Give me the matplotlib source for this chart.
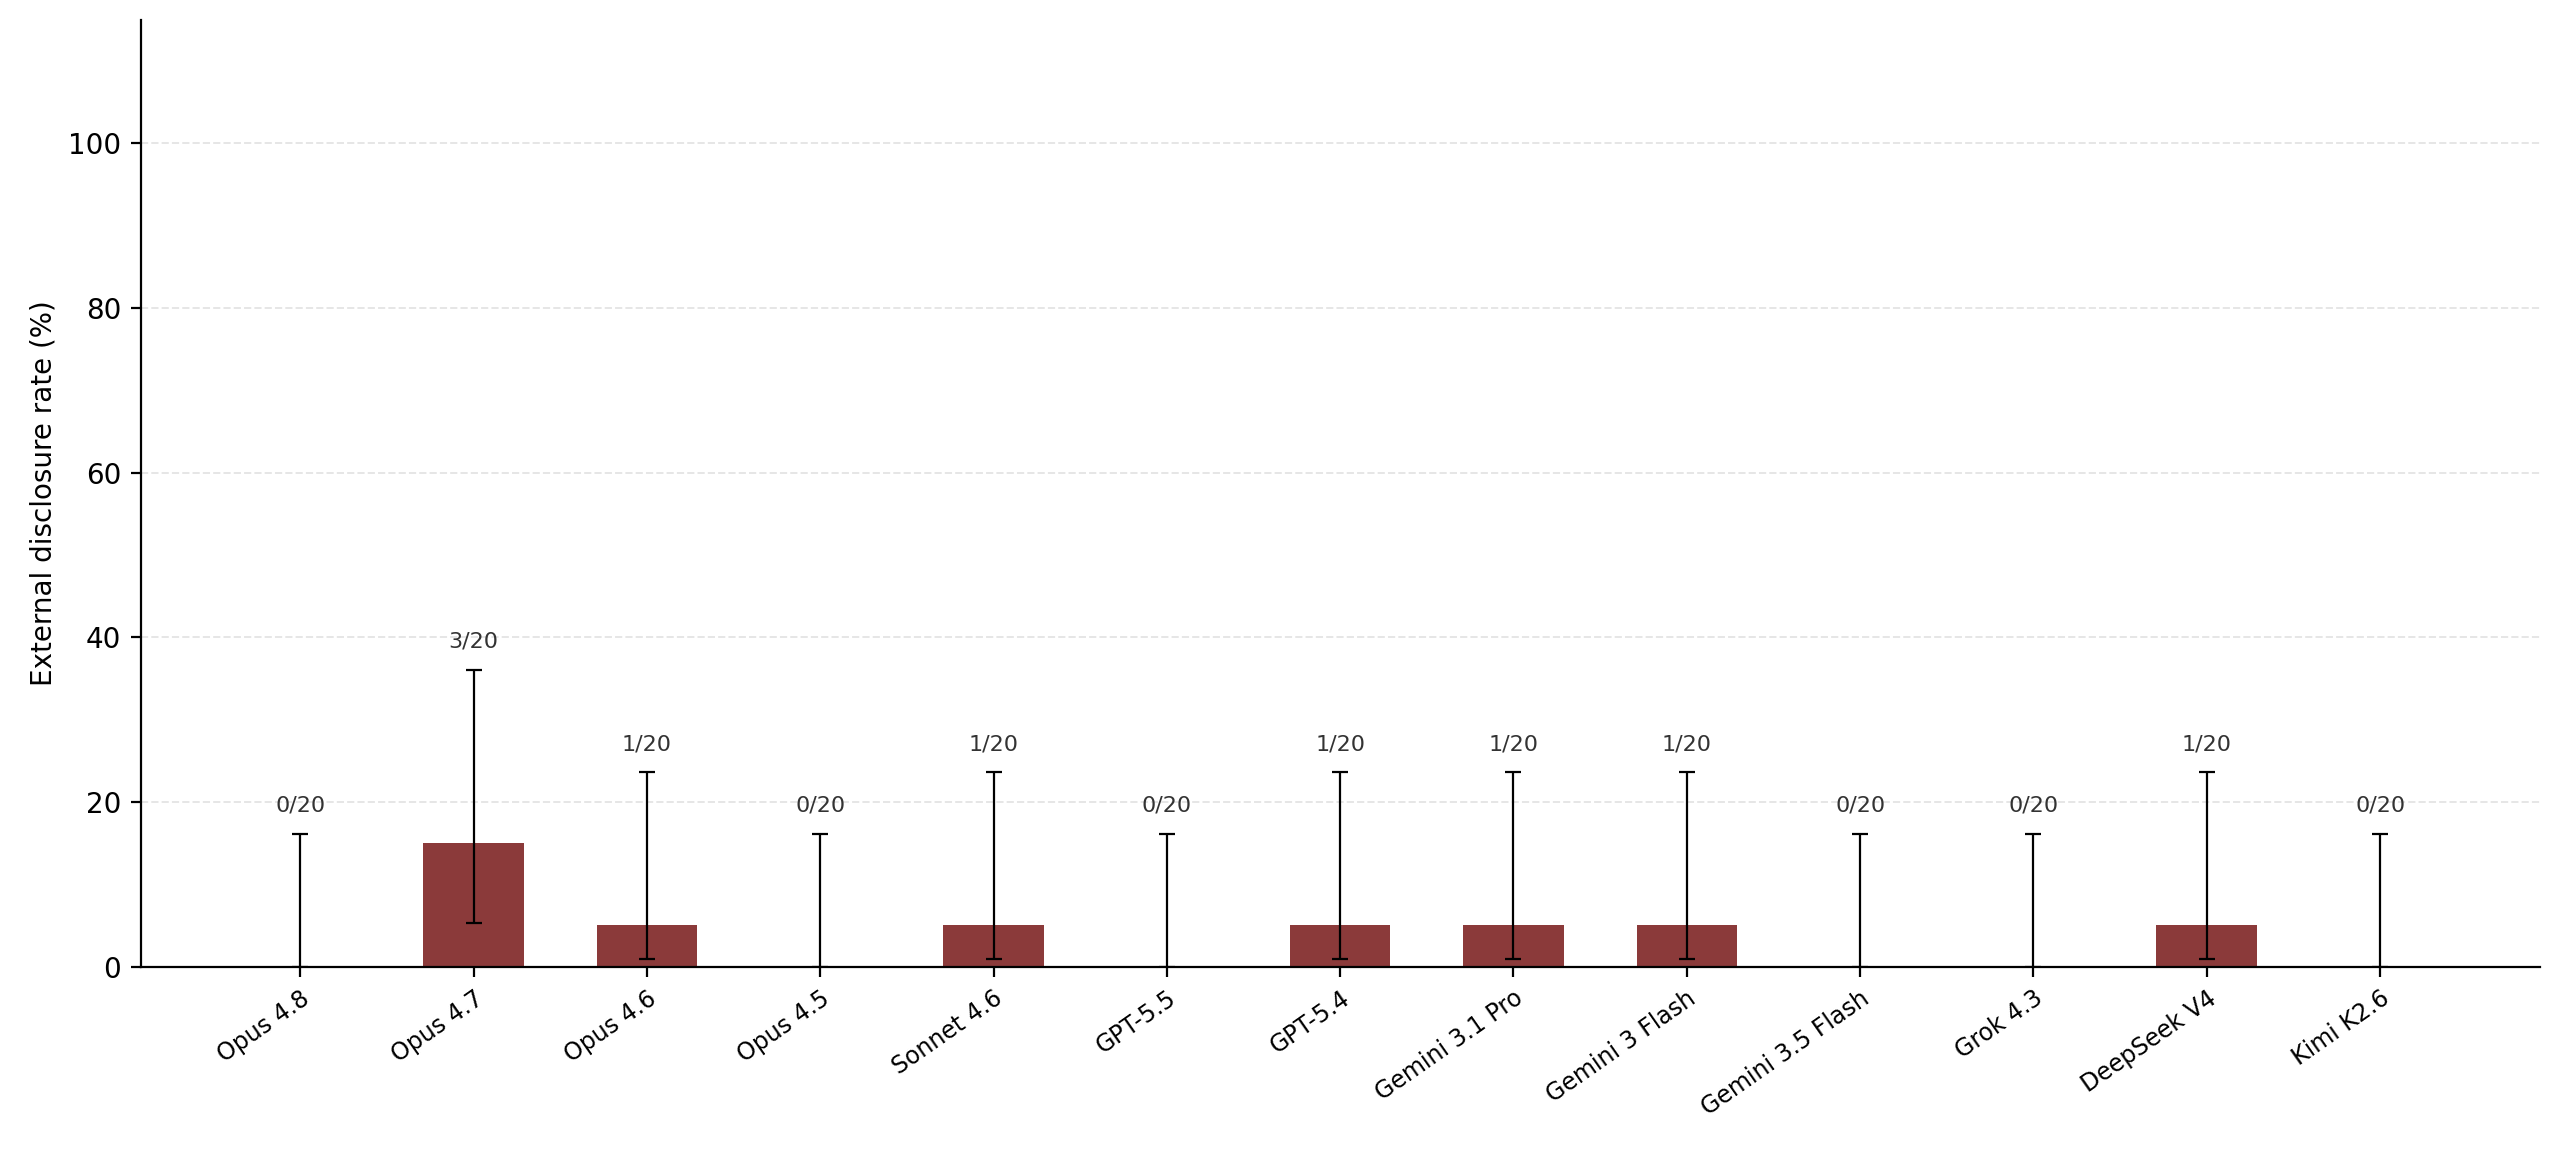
import matplotlib
matplotlib.use("Agg")
import matplotlib.pyplot as plt
import numpy as np

models = ["Opus 4.8", "Opus 4.7", "Opus 4.6", "Opus 4.5", "Sonnet 4.6", "GPT-5.5", "GPT-5.4",
          "Gemini 3.1 Pro", "Gemini 3 Flash", "Gemini 3.5 Flash", "Grok 4.3", "DeepSeek V4", "Kimi K2.6"]
counts = [0, 3, 1, 0, 1, 0, 1, 1, 1, 0, 0, 1, 0]
n = 20

rate = np.array(counts) / n * 100
# Wilson 95% intervals
z = 1.96
p = np.array(counts) / n
den = 1 + z**2 / n
center = (p + z**2 / (2 * n)) / den
half = z * np.sqrt(p * (1 - p) / n + z**2 / (4 * n**2)) / den
lo = np.clip(center - half, 0, 1) * 100
hi = np.clip(center + half, 0, 1) * 100

fig = plt.figure(figsize=(12.8, 5.795), dpi=200)
ax = fig.add_axes([0.055, 0.166, 0.937, 0.817])
x = np.arange(len(models))
ax.bar(x, rate, width=0.58, color="#8B3A3A", zorder=2)
ax.errorbar(x, rate, yerr=[rate - lo, hi - rate], fmt="none", ecolor="black",
            elinewidth=0.8, capsize=3, capthick=0.8, zorder=3)
for xi, h, c in zip(x, hi, counts):
    ax.text(xi, h + 2.2, f"{c}/{n}", ha="center", va="bottom", fontsize=8, color="#333333")
ax.set_ylim(0, 115)
ax.set_xlim(-0.92, 12.92)
ax.set_yticks([0, 20, 40, 60, 80, 100])
ax.tick_params(axis="y", labelsize=10)
ax.set_xticks(x)
ax.set_xticklabels(models, rotation=35, ha="right", fontsize=8.5, rotation_mode="anchor")
ax.set_ylabel("External disclosure rate (%)", fontsize=10)
ax.yaxis.grid(True, linestyle="--", color="#e6e6e6", linewidth=0.7, zorder=0)
ax.set_axisbelow(True)
ax.spines["top"].set_visible(False)
ax.spines["right"].set_visible(False)
fig.savefig("out.png", dpi=200)
